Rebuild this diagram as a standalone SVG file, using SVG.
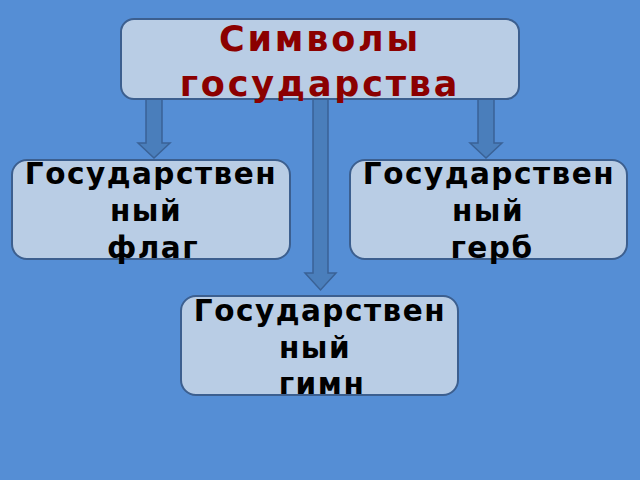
<svg xmlns="http://www.w3.org/2000/svg" width="640" height="480" viewBox="0 0 640 480">
<style>
.box{fill:#b9cde5;stroke:#3c5f8f;stroke-width:2}
.arr{fill:#4a7ebb;stroke:#3a6296;stroke-width:1.5}
.t{font-family:"DejaVu Sans",sans-serif;font-weight:bold;text-anchor:middle}
.title{font-size:35px;fill:#8b0000;letter-spacing:2.8px}
.lbl{font-size:29.5px;fill:#000;letter-spacing:1.5px}
</style>
<rect width="640" height="480" fill="#558ed5"/>
<g id="connectors">
<path class="arr" d="M146,99 H162 V143 H170 L154,158 L138,143 H146 Z"/>
<path class="arr" d="M478,99 H494 V143 H502 L486,158 L470,143 H478 Z"/>
<path class="arr" d="M313,99 H328 V273 H336 L320.5,290 L305,273 H313 Z"/>
</g>
<g id="top">
<rect class="box" x="121" y="19" width="398" height="80" rx="13"/>
<text class="t title" x="320" y="51">Символы</text>
<text class="t title" x="320" y="96">государства</text>
</g>
<g id="flag">
<rect class="box" x="12" y="160" width="278" height="99" rx="15"/>
<text class="t lbl" x="151" y="184">Государствен</text>
<text class="t lbl" x="146" y="221">ный</text>
<text class="t lbl" x="153" y="258">флаг</text>
</g>
<g id="gerb">
<rect class="box" x="350" y="160" width="277" height="99" rx="15"/>
<text class="t lbl" x="489" y="184">Государствен</text>
<text class="t lbl" x="488" y="221">ный</text>
<text class="t lbl" x="492" y="258">герб</text>
</g>
<g id="gimn">
<rect class="box" x="181" y="296" width="277" height="99" rx="15"/>
<text class="t lbl" x="320" y="321">Государствен</text>
<text class="t lbl" x="315" y="358">ный</text>
<text class="t lbl" x="322" y="394">гимн</text>
</g>
</svg>
